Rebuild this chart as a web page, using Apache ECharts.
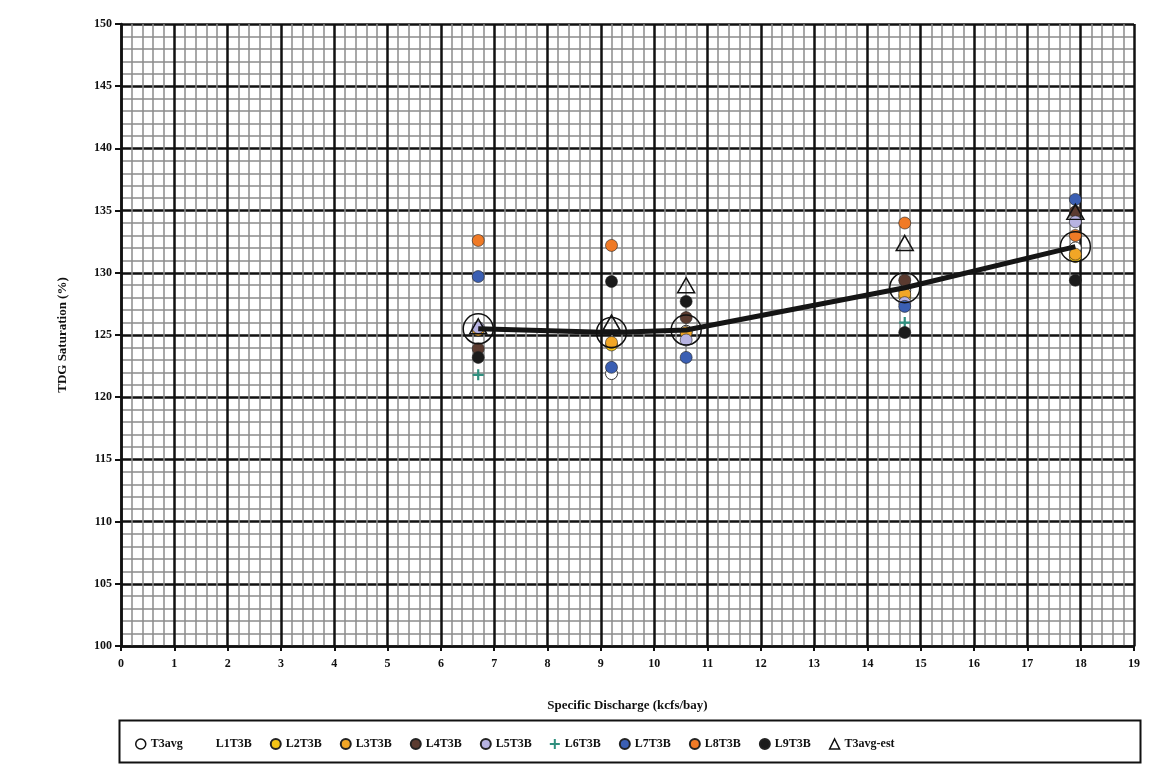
<!DOCTYPE html>
<html>
<head>
<meta charset="utf-8">
<title>TDG Saturation vs Specific Discharge</title>
<script src="https://cdn.jsdelivr.net/npm/echarts@6/dist/echarts.min.js"></script>
<style>
  html, body { margin: 0; padding: 0; background: #ffffff; }
  #chart { width: 1171px; height: 771px; }
</style>
</head>
<body>
<div id="chart"></div>
<script>
// Specific discharge (kcfs/bay) for each sampling condition
const discharge = [6.7, 9.2, 10.6, 14.7, 17.9];

// TDG saturation (%) by station; null where no reading is shown
const t3avg    = [125.5, 125.2, 125.4, 128.8, 132.1];
const l1t3b    = [125.5, 121.9, 125.3, 128.6, 132.0];
const l2t3b    = [null, 124.2, null, 128.1, 131.3];
const l3t3b    = [125.4, 124.4, 125.2, 128.3, 131.5];
const l4t3b    = [123.9, null, 126.4, 129.4, 134.9];
const l5t3b    = [125.6, null, 124.6, 127.6, 134.1];
const l6t3b    = [121.8, null, null, 126.0, null];
const l7t3b    = [129.7, 122.4, 123.2, 127.3, 135.9];
const l8t3b    = [132.6, 132.2, null, 134.0, 133.0];
const l9t3b    = [123.2, 129.3, 127.7, 125.2, 129.4];
const t3avgEst = [125.7, 126.0, 129.0, 132.4, 134.9];

const xTicks = { min: 0, max: 19, interval: 1 };
const yTicks = { min: 100, max: 150, interval: 5 };

const FONT = '"Liberation Serif", "DejaVu Serif", serif';
const PLUS = 'path://M4 0h2v4h4v2h-4v4h-2v-4h-4v-2h4z';

function pairs(vals) {
  return discharge.map((x, i) => vals[i] == null ? null : [x, vals[i]]).filter(p => p);
}

function dots(name, vals, color, opts) {
  return Object.assign({
    name: name,
    type: 'scatter',
    data: pairs(vals),
    symbol: 'circle',
    symbolSize: 12,
    itemStyle: { color: color, borderColor: '#222', borderWidth: 0.6, opacity: 1 },
    z: 3
  }, opts || {});
}

const chart = echarts.init(document.getElementById('chart'), null, { renderer: 'canvas' });

const series = [
  dots('L1T3B', l1t3b, '#ffffff', { itemStyle: { color: '#ffffff', borderColor: '#333', borderWidth: 1, opacity: 1 } }),
  dots('L2T3B', l2t3b, '#f3c316'),
  dots('L3T3B', l3t3b, '#f1a626'),
  dots('L4T3B', l4t3b, '#5b3b30'),
  dots('L5T3B', l5t3b, '#b7b3e2'),
  dots('L6T3B', l6t3b, '#2f8f7e', { symbol: PLUS, symbolSize: 11, itemStyle: { color: '#2f8f7e', opacity: 1 } }),
  dots('L7T3B', l7t3b, '#3b5fb3'),
  dots('L8T3B', l8t3b, '#f07a26'),
  dots('L9T3B', l9t3b, '#1b1b1b'),
  {
    name: 'T3avg-est',
    type: 'scatter',
    data: pairs(t3avgEst),
    symbol: 'triangle',
    symbolSize: [17, 15],
    itemStyle: { color: 'rgba(255,255,255,0)', borderColor: '#111', borderWidth: 1.5, opacity: 1 },
    z: 4
  },
  {
    name: 'T3avg',
    type: 'line',
    data: pairs(t3avg),
    symbol: 'circle',
    symbolSize: 30,
    showAllSymbol: true,
    lineStyle: { color: '#151515', width: 5 },
    itemStyle: { color: 'rgba(255,255,255,0)', borderColor: '#111', borderWidth: 1.5 },
    z: 5
  }
];

chart.setOption({
  animation: false,
  backgroundColor: '#ffffff',
  grid: { left: 121, right: 37, top: 24, bottom: 125, containLabel: false },
  xAxis: {
    type: 'value',
    min: xTicks.min, max: xTicks.max, interval: xTicks.interval,
    name: 'Specific Discharge (kcfs/bay)',
    nameLocation: 'middle',
    nameGap: 53,
    nameTextStyle: { fontFamily: FONT, fontWeight: 'bold', fontSize: 13, color: '#111' },
    axisLine: { show: true, lineStyle: { color: '#111', width: 2.5 } },
    axisTick: { show: true, length: 5, lineStyle: { color: '#111', width: 2 } },
    axisLabel: { fontFamily: FONT, fontWeight: 'bold', fontSize: 12, color: '#111', margin: 12 },
    splitLine: { show: true, lineStyle: { color: '#111', width: 2.5 } },
    minorTick: { show: false, splitNumber: 5 },
    minorSplitLine: { show: true, lineStyle: { color: '#8c8c8c', width: 1.5 } }
  },
  yAxis: {
    type: 'value',
    min: yTicks.min, max: yTicks.max, interval: yTicks.interval,
    name: 'TDG Saturation (%)',
    nameLocation: 'middle',
    nameGap: 52,
    nameRotate: 90,
    nameTextStyle: { fontFamily: FONT, fontWeight: 'bold', fontSize: 13, color: '#111' },
    axisLine: { show: true, lineStyle: { color: '#111', width: 2.5 } },
    axisTick: { show: true, length: 6, lineStyle: { color: '#111', width: 2 } },
    axisLabel: { fontFamily: FONT, fontWeight: 'bold', fontSize: 12, color: '#111', margin: 9 },
    splitLine: { show: true, lineStyle: { color: '#111', width: 2.5 } },
    minorTick: { show: false, splitNumber: 5 },
    minorSplitLine: { show: true, lineStyle: { color: '#8c8c8c', width: 1.5 } }
  },
  legend: {
    left: 130,
    top: 733,
    orient: 'horizontal',
    itemGap: 18,
    itemWidth: 10,
    itemHeight: 10,
    textStyle: { fontFamily: FONT, fontWeight: 'bold', fontSize: 12, color: '#111' },
    data: [
      { name: 'T3avg', icon: 'circle', itemStyle: { color: '#ffffff', borderColor: '#111', borderWidth: 1.5 } },
      { name: 'L1T3B', icon: 'circle', itemStyle: { color: '#ffffff', borderColor: '#ffffff', borderWidth: 0 } },
      'L2T3B', 'L3T3B', 'L4T3B', 'L5T3B', 'L6T3B', 'L7T3B', 'L8T3B', 'L9T3B',
      { name: 'T3avg-est', icon: 'triangle', itemStyle: { color: '#ffffff', borderColor: '#111', borderWidth: 1.5 } }
    ]
  },
  graphic: [
    {
      type: 'rect',
      left: 117, top: 718,
      shape: { width: 1021, height: 42 },
      style: { fill: 'none', stroke: '#111', lineWidth: 2 },
      z: 10
    }
  ],
  series: series
});
</script>
</body>
</html>
